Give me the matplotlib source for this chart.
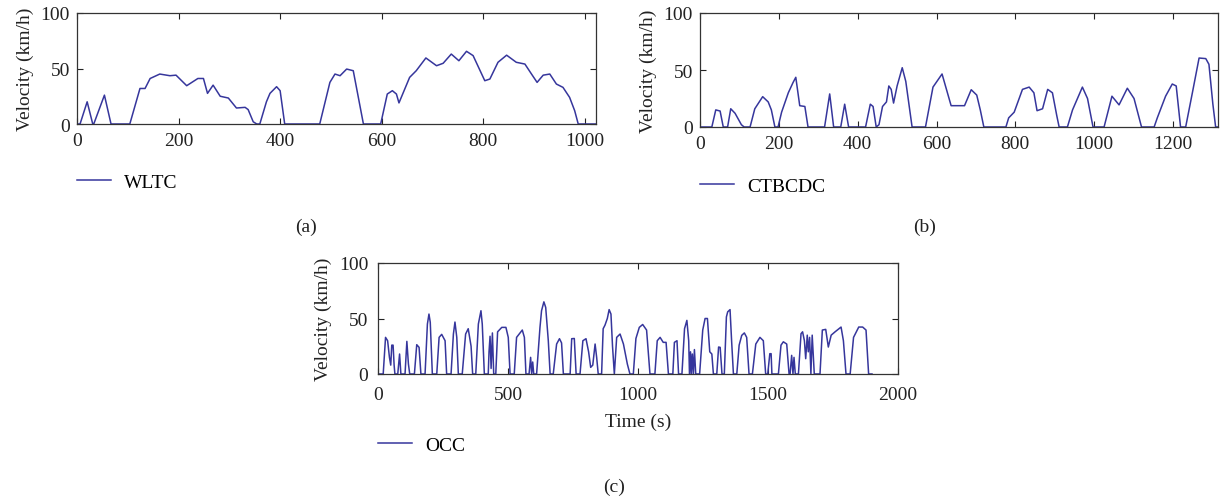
import matplotlib
matplotlib.use("Agg")
import matplotlib.pyplot as plt

plt.rcParams['font.family'] = ['Liberation Serif', 'DejaVu Serif']

# ---------------- data ----------------
wltc_t = [0, 6, 20, 31, 33, 54, 67, 104, 124, 134, 144, 163, 183, 195, 216, 238, 249,
          257, 268, 282, 298, 314, 331, 337, 347, 354, 360, 373, 380, 393, 400, 409,
          478, 498, 508, 518, 531, 544, 564, 598, 611, 621, 629, 634, 655, 668, 687,
          708, 721, 737, 752, 767, 780, 803, 813, 829, 846, 865, 882, 895, 906, 918,
          931, 944, 957, 970, 980, 987, 1022]
wltc_v = [0, 0, 20, 0, 0, 26, 0, 0, 32, 32, 41, 45, 43.5, 44, 34.5, 41, 41,
          27.6, 35, 25, 23.4, 14.4, 15, 13, 2, 0, 0, 20, 27.6, 33.6, 30, 0,
          0, 37.5, 45, 43.5, 49.5, 48, 0, 0, 27, 30, 27, 19, 42, 48, 59.5,
          52.5, 54.7, 63, 57, 65.5, 61.6, 39, 40.5, 55.6, 62, 55.6, 54, 45, 37.5, 44,
          45, 36, 33, 24, 12, 0, 0]

ctb_t = [0, 30, 40, 51, 59, 70, 78, 89, 105, 112, 127, 139, 159, 173, 181, 190, 198,
         207, 224, 236, 243, 253, 266, 274, 316, 329, 339, 357, 367, 377, 420, 432,
         439, 447, 454, 463, 473, 479, 485, 491, 500, 513, 522, 538, 572, 591, 614,
         637, 671, 688, 702, 711, 720, 776, 783, 797, 818, 835, 847, 855, 869, 882,
         894, 905, 911, 932, 945, 970, 983, 997, 1025, 1045, 1063, 1084, 1101, 1120,
         1152, 1160, 1181, 1198, 1208, 1219, 1232, 1249, 1266, 1283, 1291, 1301, 1308, 1314]
ctb_v = [0, 0, 15, 14, 0, 0, 16, 12, 2, 0, 0, 16, 26.6, 22, 15, 0, 0,
         13, 30, 39, 43.6, 18.7, 18, 0, 0, 29, 0, 0, 20, 0, 0, 20,
         18, 0, 2, 18, 22, 36, 33, 21, 36, 52, 40, 0, 0, 35, 46.5,
         18.7, 18.7, 32.7, 28, 15, 0, 0, 8, 13, 33, 35, 30, 14.3, 16, 33,
         30, 10, 0, 0, 15, 35, 25, 0, 0, 27, 19.4, 34, 25, 0,
         0, 8, 27, 37.7, 36, 0, 0, 30, 60.5, 60, 55, 20, 0, 0]

occ_t = [0, 20, 29, 37, 44, 49, 53, 58, 62, 65, 76, 83, 88, 104, 111, 117, 122,
         140, 149, 158, 165, 181, 190, 196, 201, 209, 226, 235, 245, 258, 264,
         281, 290, 296, 303, 309, 324, 337, 347, 358, 364, 376, 386, 396, 401, 409,
         424, 427, 431, 435, 440, 445, 453, 460, 476, 492, 501, 508,
         524, 533, 542, 555, 563, 569, 581, 587, 591, 595, 599,
         610, 623, 629, 638, 645, 655, 662, 674, 687, 698, 706, 713,
         739, 745, 755, 762, 777, 788, 800, 810, 818, 826, 835, 841, 847,
         860, 866, 873, 882, 889, 896, 902, 909, 918, 931, 944, 959, 969,
         982, 992, 1005, 1018, 1033, 1046, 1065, 1074, 1085, 1097, 1108, 1117,
         1134, 1140, 1150, 1156, 1169, 1179, 1188, 1195, 1198, 1202, 1205, 1209, 1213,
         1217, 1222, 1237, 1249, 1258, 1267, 1276, 1284, 1290, 1303, 1310, 1316, 1323,
         1332, 1340, 1345, 1354, 1360, 1367, 1380, 1389, 1399, 1409, 1418, 1427,
         1440, 1453, 1469, 1482, 1491, 1499, 1507, 1512, 1515, 1540, 1550, 1559, 1572,
         1581, 1585, 1591, 1596, 1600, 1605, 1617, 1627, 1633, 1640, 1645, 1651,
         1655, 1660, 1665, 1670, 1678, 1700, 1709, 1722, 1732, 1743, 1758, 1781,
         1790, 1800, 1816, 1829, 1849, 1864, 1877, 1887, 1900]
occ_v = [0, 0, 33, 30, 15, 8, 26, 26, 8, 0, 0, 18, 0, 0, 29.4, 9, 0,
         0, 26.4, 24, 0, 0, 45, 54, 46.6, 0, 0, 33, 35.7, 30, 0,
         0, 36, 46.8, 33, 0, 0, 36, 40.8, 25, 0, 0, 45, 57, 45, 0,
         0, 20, 34, 5, 37, 0, 0, 38, 42, 42, 33, 0,
         0, 33, 35.7, 39.6, 33, 0, 0, 15, 0, 10.8, 0,
         0, 42, 57, 65, 60, 30, 0, 0, 27, 31.8, 28, 0,
         0, 31.8, 32, 0, 0, 30, 31.8, 20, 6, 8, 27, 15, 0,
         0, 40.8, 44, 50, 58, 54, 25, 0, 33, 36, 27, 9, 0,
         0, 32, 42, 44.6, 39.6, 0, 0, 30, 33, 28.5, 28.5, 0,
         0, 28.5, 30, 0, 0, 40.8, 48.3, 30, 0, 20, 0, 18, 0,
         22, 0, 0, 39.6, 50, 50, 20, 18, 0, 0, 24.3, 24, 0,
         0, 51.4, 56, 58, 30, 0, 0, 26, 34.8, 37, 33, 0,
         0, 27, 33, 30, 0, 0, 18.3, 18.3, 0, 0, 26, 29, 27,
         0, 0, 16.8, 0, 15, 0, 0, 36.3, 38, 30, 13.8, 35,
         20, 33, 0, 35, 0, 0, 39.6, 40.2, 24.3, 35, 38, 42.3,
         30, 0, 0, 33, 42.3, 42.3, 39.6, 0, 0]

panels = [
    dict(t=wltc_t, v=wltc_v, name='WLTC', xmax=1022, xticks=[0, 200, 400, 600, 800, 1000],
         rect=[77, 14, 596, 125], leg=(77, 183), tag='(a)', tagpos=(306, 227), xlabel=None,
         xpad=6, ypad=5),
    dict(t=ctb_t, v=ctb_v, name='CTBCDC', xmax=1314, xticks=[0, 200, 400, 600, 800, 1000, 1200],
         rect=[700, 14, 1218, 128], leg=(700, 187), tag='(b)', tagpos=(925, 227), xlabel=None,
         xpad=6, ypad=5),
    dict(t=occ_t, v=occ_v, name='OCC', xmax=2000, xticks=[0, 500, 1000, 1500, 2000],
         rect=[378, 264, 898, 375], leg=(378, 446), tag='(c)', tagpos=(614, 487), xlabel='Time (s)',
         xpad=8.5, ypad=7),
]

W, H = 1225, 502
fig = plt.figure(figsize=(W / 100, H / 100), dpi=100)
LINE_C = '#36369c'
TXT_C = '#222222'
FS = 14

for p in panels:
    l, t, r, b = p['rect']
    ax = fig.add_axes([l / W, 1 - b / H, (r - l) / W, (b - t) / H])
    ax.plot(p['t'], p['v'], color=LINE_C, lw=1.1, label=p['name'])
    ax.set_xlim(0, p['xmax'])
    ax.set_ylim(0, 100)
    ax.set_xticks(p['xticks'])
    ax.set_yticks([0, 50, 100])
    ax.tick_params(direction='in', top=True, right=True, length=4, width=0.8,
                   labelsize=FS, colors=TXT_C)
    ax.tick_params(axis='x', pad=p['xpad'])
    ax.tick_params(axis='y', pad=p['ypad'])
    for s in ax.spines.values():
        s.set_linewidth(0.9)
        s.set_color('#333333')
    ax.set_ylabel('Velocity (km/h)', fontsize=FS, color=TXT_C, labelpad=5)
    if p['xlabel']:
        ax.set_xlabel(p['xlabel'], fontsize=FS, color=TXT_C, labelpad=7)
    lx, ly = p['leg']
    ax.legend(loc='center left', bbox_to_anchor=(lx / W, 1 - ly / H),
              bbox_transform=fig.transFigure, frameon=False, fontsize=FS,
              handlelength=1.75, handletextpad=0.67, borderpad=0, borderaxespad=0)
    tx, ty = p['tagpos']
    fig.text(tx / W, 1 - ty / H, p['tag'], ha='center', va='center', fontsize=FS, color=TXT_C)

fig.savefig('out.png', dpi=100)
